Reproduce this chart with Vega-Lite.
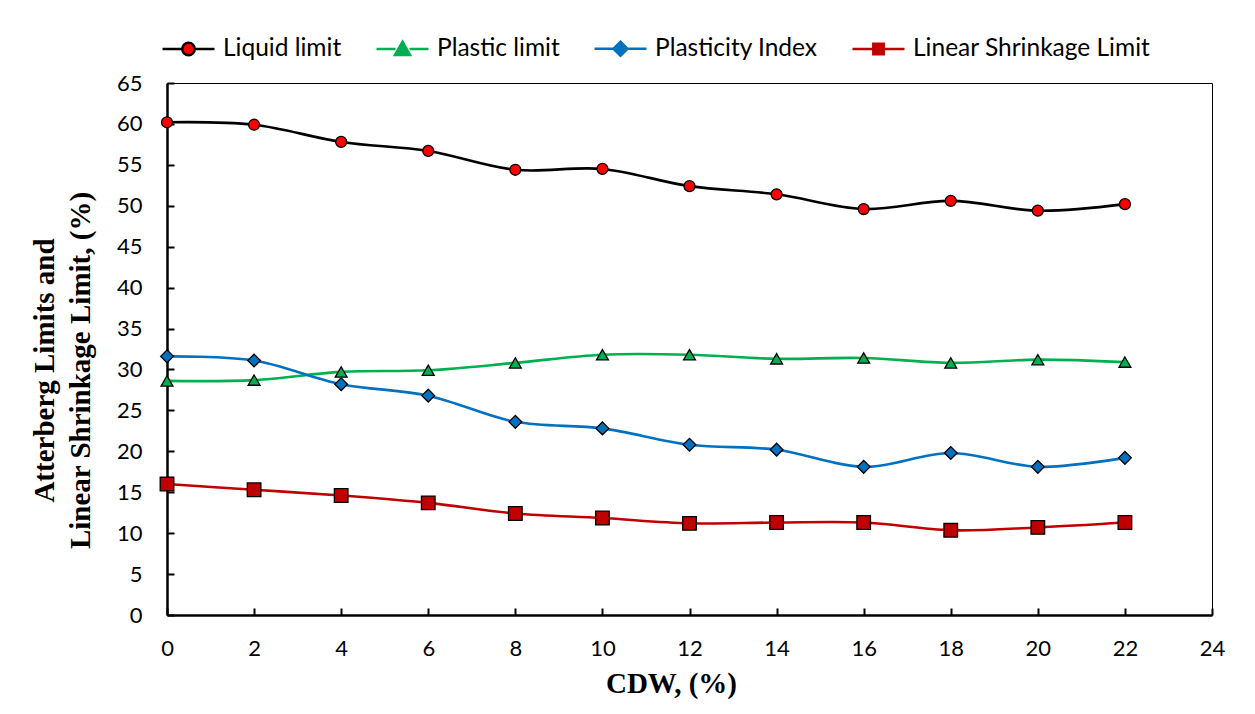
{
  "$schema": "https://vega.github.io/schema/vega-lite/v6.json",
  "width": 1045,
  "height": 532,
  "autosize": {"type": "none"},
  "padding": {"left": 167, "top": 83, "right": 43, "bottom": 99},
  "background": "white",
  "config": {
    "font": "Lato",
    "view": {"stroke": "black", "strokeWidth": 1},
    "axis": {
      "grid": false,
      "domainColor": "black",
      "domainWidth": 2.5,
      "tickColor": "black",
      "tickWidth": 2,
      "tickSize": -7,
      "labelFont": "Lato",
      "labelFontSize": 22,
      "labelColor": "black",
      "labelFlush": false,
      "titleColor": "black",
      "titleFont": "Liberation Serif",
      "titleFontWeight": "bold"
    }
  },
  "data": {
    "values": [
      {"cdw": 0, "series": "Liquid limit", "value": 60.2},
      {"cdw": 2, "series": "Liquid limit", "value": 59.9},
      {"cdw": 4, "series": "Liquid limit", "value": 57.8},
      {"cdw": 6, "series": "Liquid limit", "value": 56.7},
      {"cdw": 8, "series": "Liquid limit", "value": 54.4},
      {"cdw": 10, "series": "Liquid limit", "value": 54.5},
      {"cdw": 12, "series": "Liquid limit", "value": 52.4},
      {"cdw": 14, "series": "Liquid limit", "value": 51.4},
      {"cdw": 16, "series": "Liquid limit", "value": 49.6},
      {"cdw": 18, "series": "Liquid limit", "value": 50.6},
      {"cdw": 20, "series": "Liquid limit", "value": 49.4},
      {"cdw": 22, "series": "Liquid limit", "value": 50.2},
      {"cdw": 0, "series": "Plastic limit", "value": 28.6},
      {"cdw": 2, "series": "Plastic limit", "value": 28.7},
      {"cdw": 4, "series": "Plastic limit", "value": 29.7},
      {"cdw": 6, "series": "Plastic limit", "value": 29.9},
      {"cdw": 8, "series": "Plastic limit", "value": 30.8},
      {"cdw": 10, "series": "Plastic limit", "value": 31.8},
      {"cdw": 12, "series": "Plastic limit", "value": 31.8},
      {"cdw": 14, "series": "Plastic limit", "value": 31.3},
      {"cdw": 16, "series": "Plastic limit", "value": 31.4},
      {"cdw": 18, "series": "Plastic limit", "value": 30.8},
      {"cdw": 20, "series": "Plastic limit", "value": 31.2},
      {"cdw": 22, "series": "Plastic limit", "value": 30.9},
      {"cdw": 0, "series": "Plasticity Index", "value": 31.6},
      {"cdw": 2, "series": "Plasticity Index", "value": 31.1},
      {"cdw": 4, "series": "Plasticity Index", "value": 28.2},
      {"cdw": 6, "series": "Plasticity Index", "value": 26.8},
      {"cdw": 8, "series": "Plasticity Index", "value": 23.6},
      {"cdw": 10, "series": "Plasticity Index", "value": 22.8},
      {"cdw": 12, "series": "Plasticity Index", "value": 20.8},
      {"cdw": 14, "series": "Plasticity Index", "value": 20.2},
      {"cdw": 16, "series": "Plasticity Index", "value": 18.1},
      {"cdw": 18, "series": "Plasticity Index", "value": 19.8},
      {"cdw": 20, "series": "Plasticity Index", "value": 18.1},
      {"cdw": 22, "series": "Plasticity Index", "value": 19.2},
      {"cdw": 0, "series": "Linear Shrinkage Limit", "value": 16.0},
      {"cdw": 2, "series": "Linear Shrinkage Limit", "value": 15.3},
      {"cdw": 4, "series": "Linear Shrinkage Limit", "value": 14.6},
      {"cdw": 6, "series": "Linear Shrinkage Limit", "value": 13.7},
      {"cdw": 8, "series": "Linear Shrinkage Limit", "value": 12.4},
      {"cdw": 10, "series": "Linear Shrinkage Limit", "value": 11.85},
      {"cdw": 12, "series": "Linear Shrinkage Limit", "value": 11.2},
      {"cdw": 14, "series": "Linear Shrinkage Limit", "value": 11.3},
      {"cdw": 16, "series": "Linear Shrinkage Limit", "value": 11.3},
      {"cdw": 18, "series": "Linear Shrinkage Limit", "value": 10.35},
      {"cdw": 20, "series": "Linear Shrinkage Limit", "value": 10.7},
      {"cdw": 22, "series": "Linear Shrinkage Limit", "value": 11.3}
    ]
  },
  "encoding": {
    "x": {
      "field": "cdw",
      "type": "quantitative",
      "scale": {"domain": [0, 24], "nice": false},
      "axis": {
        "values": [0, 2, 4, 6, 8, 10, 12, 14, 16, 18, 20, 22, 24],
        "title": "CDW, (%)",
        "titleFontSize": 29,
        "titleX": 504,
        "titleY": 68,
        "titleBaseline": "middle",
        "titleAlign": "center",
        "labelPadding": 30
      }
    },
    "y": {
      "field": "value",
      "type": "quantitative",
      "scale": {"domain": [0, 65], "nice": false},
      "axis": {
        "values": [0, 5, 10, 15, 20, 25, 30, 35, 40, 45, 50, 55, 60, 65],
        "title": ["Atterberg Limits and", "Linear Shrinkage Limit, (%)"],
        "titleFontSize": 29,
        "titleAngle": 270,
        "titleX": -123,
        "titleY": 287,
        "titleBaseline": "middle",
        "titleAlign": "center",
        "titleLineHeight": 36,
        "labelPadding": 32
      }
    }
  },
  "layer": [
    {
      "mark": {"type": "line", "interpolate": "catmull-rom", "strokeWidth": 2.6},
      "encoding": {
        "stroke": {
          "field": "series",
          "type": "nominal",
          "scale": {
            "domain": ["Liquid limit", "Plastic limit", "Plasticity Index", "Linear Shrinkage Limit"],
            "range": ["#000000", "#00B050", "#0070C0", "#C00000"]
          },
          "legend": null
        }
      }
    },
    {
      "mark": {"type": "point", "filled": true, "opacity": 1, "stroke": "black", "strokeWidth": 1.3},
      "encoding": {
        "shape": {
          "field": "series",
          "type": "nominal",
          "scale": {
            "domain": ["Liquid limit", "Plastic limit", "Plasticity Index", "Linear Shrinkage Limit"],
            "range": ["circle", "triangle-up", "diamond", "square"]
          },
          "legend": null
        },
        "fill": {
          "field": "series",
          "type": "nominal",
          "scale": {
            "domain": ["Liquid limit", "Plastic limit", "Plasticity Index", "Linear Shrinkage Limit"],
            "range": ["#FF0000", "#00B050", "#0070C0", "#C00000"]
          },
          "legend": null
        },
        "size": {
          "field": "series",
          "type": "nominal",
          "scale": {
            "domain": ["Liquid limit", "Plastic limit", "Plasticity Index", "Linear Shrinkage Limit"],
            "range": [120, 185, 160, 130]
          },
          "legend": null
        }
      }
    },
    {
      "transform": [{"filter": "datum.value < -100"}],
      "mark": {"type": "point", "filled": true, "opacity": 1},
      "encoding": {
        "shape": {
          "field": "series",
          "type": "nominal",
          "scale": {
            "domain": ["Liquid limit", "Plastic limit", "Plasticity Index", "Linear Shrinkage Limit"],
            "range": [
              "M-1,0H-0.24M0.24,0H1M0.24,0A0.24,0.24 0 1,1 -0.24,0A0.24,0.24 0 1,1 0.24,0Z",
              "M-1,0H-0.27M0.27,0H1M0,-0.28L0.29,0.23L-0.29,0.23Z",
              "M-1,0H-0.27M0.27,0H1M0,-0.27L0.27,0L0,0.27L-0.27,0Z",
              "M-1,0H-0.2M0.2,0H1M-0.2,-0.2H0.2V0.2H-0.2Z"
            ]
          },
          "legend": {
            "title": null, "orient": "none", "legendX": -6, "legendY": -62,
            "direction": "horizontal", "columns": 4, "columnPadding": 29,
            "symbolSize": 2704, "symbolStrokeWidth": 2.5, "symbolOpacity": 1,
            "labelFont": "Lato", "labelFontSize": 24.5, "labelColor": "black", "labelOffset": 7, "labelLimit": 500, "padding": 0
          }
        },
        "fill": {
          "field": "series",
          "type": "nominal",
          "scale": {
            "domain": ["Liquid limit", "Plastic limit", "Plasticity Index", "Linear Shrinkage Limit"],
            "range": ["#FF0000", "#00B050", "#0070C0", "#C00000"]
          },
          "legend": {
            "title": null, "orient": "none", "legendX": -6, "legendY": -62,
            "direction": "horizontal", "columns": 4, "columnPadding": 29,
            "symbolSize": 2704, "symbolStrokeWidth": 2.5, "symbolOpacity": 1,
            "labelFont": "Lato", "labelFontSize": 24.5, "labelColor": "black", "labelOffset": 7, "labelLimit": 500, "padding": 0
          }
        },
        "stroke": {
          "field": "series",
          "type": "nominal",
          "scale": {
            "domain": ["Liquid limit", "Plastic limit", "Plasticity Index", "Linear Shrinkage Limit"],
            "range": ["#000000", "#00B050", "#0070C0", "#C00000"]
          },
          "legend": {
            "title": null, "orient": "none", "legendX": -6, "legendY": -62,
            "direction": "horizontal", "columns": 4, "columnPadding": 29,
            "symbolSize": 2704, "symbolStrokeWidth": 2.5, "symbolOpacity": 1,
            "labelFont": "Lato", "labelFontSize": 24.5, "labelColor": "black", "labelOffset": 7, "labelLimit": 500, "padding": 0
          }
        }
      }
    }
  ],
  "resolve": {"scale": {"stroke": "independent", "fill": "independent", "shape": "independent", "size": "independent"}}
}
